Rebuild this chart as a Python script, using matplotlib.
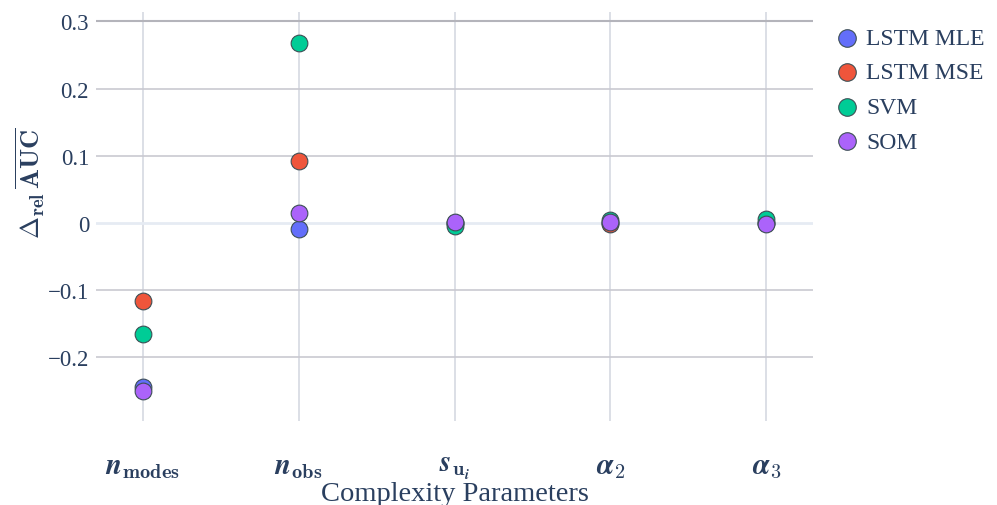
import numpy as np
import matplotlib.pyplot as plt

plt.rcParams.update({
    'font.family': 'Liberation Serif',
    'mathtext.fontset': 'cm',
    'axes.unicode_minus': True,
})

TEXT = '#2a3f5f'

params = [r'$\boldsymbol{n}_{\mathbf{modes}}$', r'$\boldsymbol{n}_{\mathbf{obs}}$',
          r'$\boldsymbol{s}_{\mathbf{u}_{\boldsymbol{i}}}$', r'$\boldsymbol{\alpha}_{\mathbf{2}}$',
          r'$\boldsymbol{\alpha}_{\mathbf{3}}$']

models = ['LSTM MLE', 'LSTM MSE', 'SVM', 'SOM']
colors = ['#636EFA', '#EF553B', '#00CC96', '#AB63FA']

lstm_mle = [-0.244, -0.009, 0.000, 0.000, 0.000]
lstm_mse = [-0.116, 0.092, 0.000, -0.002, 0.000]
svm = [-0.165, 0.268, -0.004, 0.004, 0.006]
som = [-0.250, 0.015, 0.001, 0.001, -0.002]
series = [lstm_mle, lstm_mse, svm, som]

yticks = [-0.2, -0.1, 0, 0.1, 0.2, 0.3]
ytick_labels = ['\u22120.2', '\u22120.1', '0', '0.1', '0.2', '0.3']

W, H = 997, 506
fig = plt.figure(figsize=(W / 100, H / 100), dpi=100)
ax = fig.add_axes([96 / W, 1 - 422 / H, (813 - 96) / W, (422 - 13) / H])

x = np.arange(len(params))
for vals, c, name in zip(series, colors, models):
    ax.scatter(x, vals, s=145, color=c, edgecolor='#3d4f55', linewidth=0.8,
               label=name, zorder=3)

ax.set_xlim(-0.3, len(params) - 1 + 0.3)
ax.set_ylim(-0.295, 0.314)

# grid: light vertical, grey horizontal, pale zero line, darker top line
for xi in x:
    ax.axvline(xi, color='#d5d9e2', lw=1.2, zorder=1)
for yt in yticks:
    if yt == 0:
        ax.axhline(yt, color='#e6ebf3', lw=2, zorder=1)
    elif yt == 0.3:
        ax.axhline(yt, color='#b4b4bb', lw=1.5, zorder=1)
    else:
        ax.axhline(yt, color='#c9c9d1', lw=1.2, zorder=1)

for s in ax.spines.values():
    s.set_visible(False)

ax.set_yticks(yticks)
ax.set_yticklabels(ytick_labels)
ax.set_xticks(x)
ax.set_xticklabels(params)
ax.tick_params(axis='y', length=0, pad=5, labelsize=16.5, labelcolor=TEXT)
ax.tick_params(axis='x', length=0, pad=24, labelsize=21, labelcolor=TEXT)

ax.set_xlabel('Complexity Parameters', fontsize=20.5, color=TEXT, labelpad=0)
ax.set_ylabel(r'$\mathbf{\Delta_{rel}\,\overline{AUC}}$', fontsize=19, color=TEXT)
ax.yaxis.set_label_coords(-0.068, 0.585)

leg = fig.legend(loc='upper left', bbox_to_anchor=(826 / W, 1 - 19 / H),
                 frameon=False, fontsize=17, handletextpad=0.3,
                 labelspacing=0.55, borderaxespad=0, handlelength=1.0,
                 markerscale=1.05)
for t in leg.get_texts():
    t.set_color(TEXT)

fig.savefig('out.png', dpi=100)
